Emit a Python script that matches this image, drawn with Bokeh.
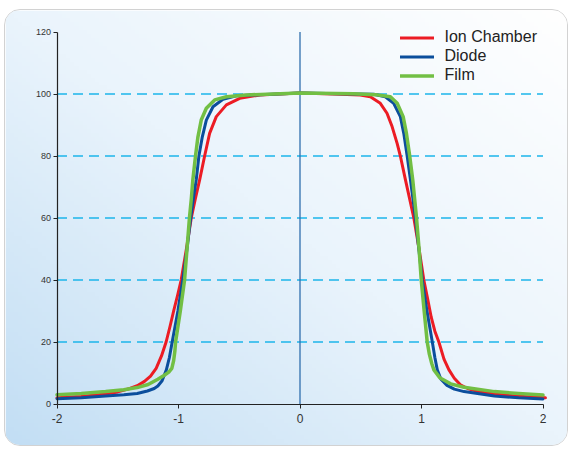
import numpy as np
from bokeh.plotting import figure
from bokeh.models import FixedTicker, Legend, LegendItem
from bokeh.embed import file_html
from bokeh.resources import INLINE

# ---- data ----
x_ticks = [-2, -1, 0, 1, 2]
x_tick_text = {-2: "-2", -1: "-1", 0: "0", 1: "1", 2: "2"}
y_ticks = [0, 20, 40, 60, 80, 100, 120]
grid_levels = [20, 40, 60, 80, 100]
center_x = 0

ion_x = [-2.0, -1.8, -1.6, -1.5, -1.4, -1.34, -1.28, -1.23, -1.184, -1.14, -1.102, -1.07,
         -1.04, -1.008, -0.978, -0.935, -0.895, -0.86, -0.826, -0.785, -0.744, -0.689,
         -0.606, -0.496, -0.33, 0.0, 0.33, 0.496, 0.579, 0.661, 0.716, 0.758, 0.8, 0.826,
         0.868, 0.937, 0.98, 1.019, 1.05, 1.08, 1.11, 1.143, 1.185, 1.226, 1.27, 1.32,
         1.38, 1.45, 1.6, 1.8, 2.02]
ion_y = [2.0, 2.4, 3.2, 3.9, 5.0, 5.9, 7.3, 9.0, 11.5, 15.5, 20.0, 25.0,
         30.0, 35.0, 40.0, 50.0, 60.0, 66.5, 72.3, 80.0, 87.3, 92.7,
         96.5, 98.6, 99.7, 100.3, 99.9, 99.7, 99.1, 97.0, 93.8, 89.5, 84.0, 80.0,
         72.3, 60.0, 50.0, 40.0, 34.0, 28.0, 23.5, 20.0, 14.5, 11.0, 8.3, 6.2,
         5.0, 4.2, 3.2, 2.5, 2.0]

diode_x = [-2.0, -1.8, -1.6, -1.45, -1.34, -1.256, -1.2, -1.17, -1.135, -1.10, -1.075, -1.052,
           -1.005, -0.965, -0.93, -0.90, -0.875, -0.854, -0.832, -0.804, -0.771, -0.716,
           -0.634, -0.523, -0.33, 0.0, 0.33, 0.606, 0.702, 0.771, 0.826, 0.854, 0.882,
           0.909, 0.95, 0.978, 1.006, 1.045, 1.089, 1.11, 1.13, 1.16, 1.21, 1.27, 1.35,
           1.6, 1.8, 2.0]
diode_y = [1.7, 2.0, 2.6, 3.0, 3.4, 4.2, 5.0, 5.8, 7.5, 11.0, 15.0, 20.0,
           30.0, 40.0, 50.0, 60.0, 67.0, 72.3, 80.0, 86.2, 91.6, 95.9,
           98.3, 99.4, 99.8, 100.3, 100.1, 99.9, 99.1, 97.0, 92.7, 87.3, 80.0,
           72.3, 60.0, 50.0, 40.0, 30.0, 20.0, 15.0, 11.0, 8.0, 6.0, 4.8, 4.0,
           2.6, 2.0, 1.6]

film_x = [-2.0, -1.8, -1.6, -1.45, -1.34, -1.25, -1.17, -1.12, -1.08, -1.055, -1.04, -1.03,
          -1.024, -0.985, -0.95, -0.93, -0.91, -0.895, -0.882, -0.86, -0.84, -0.813,
          -0.771, -0.702, -0.606, -0.44, 0.0, 0.44, 0.62, 0.744, 0.8, 0.849, 0.876, 0.903,
          0.928, 0.959, 0.98, 0.998, 1.022, 1.047, 1.065, 1.085, 1.102, 1.15, 1.24, 1.35,
          1.6, 1.8, 2.0]
film_y = [3.0, 3.4, 4.0, 4.6, 5.3, 6.3, 8.0, 9.2, 10.3, 11.5, 14.0, 17.0,
          20.0, 30.0, 40.0, 50.0, 60.0, 66.0, 72.3, 80.0, 86.2, 91.6,
          95.4, 98.1, 99.1, 99.7, 100.3, 100.1, 99.8, 99.1, 97.0, 92.7, 87.3, 80.0,
          72.3, 60.0, 50.0, 40.0, 30.0, 20.0, 16.0, 13.0, 11.0, 8.5, 6.5, 5.4,
          4.0, 3.4, 2.9]

series = [
    ("Ion Chamber", ion_x, ion_y, "#ec1c24", 3),
    ("Diode", diode_x, diode_y, "#0b4e9c", 3),
    ("Film", film_x, film_y, "#72bf44", 3.5),
]

# ---- layout ----
W, H = 564, 437
x0, x1 = -2.4239, 2.2181
y0, y1 = -14.03, 126.94

p = figure(width=W, height=H, x_range=(x0, x1), y_range=(y0, y1),
           output_backend="svg", toolbar_location=None, min_border=0)
p.styles = {"border": "1.5px solid #d2d2d2", "border-radius": "16px", "overflow": "hidden",
            "margin": "9px 0 0 4px"}
p.outline_line_color = None
p.xgrid.visible = False
p.ygrid.visible = False
p.background_fill_color = None
p.border_fill_color = "#ffffff"

# background gradient (bottom-left light blue -> top-right white)
ny, nx = 110, 140
u = np.linspace(0, 1, nx)[None, :]
v = np.linspace(0, 1, ny)[:, None]
t = np.clip((u + v) / 2.0, 0, 1)
c0 = np.array([194, 222, 244])
c1 = np.array([234, 244, 252])
c2 = np.array([255, 255, 255])
tt = t[..., None]
col = np.where(tt < 0.5, c0 + (c1 - c0) * (tt / 0.5), c1 + (c2 - c1) * ((tt - 0.5) / 0.5))
img = np.zeros((ny, nx), dtype=np.uint32)
view = img.view(dtype=np.uint8).reshape((ny, nx, 4))
view[..., 0] = col[..., 0]
view[..., 1] = col[..., 1]
view[..., 2] = col[..., 2]
view[..., 3] = 255
p.image_rgba(image=[img], x=x0, y=y0, dw=x1 - x0, dh=y1 - y0)

# dashed horizontal guide lines
p.segment(x0=[x_ticks[0]] * len(grid_levels), x1=[x_ticks[-1]] * len(grid_levels),
          y0=grid_levels, y1=grid_levels, line_color="#1cb5ea", line_width=1.4,
          line_dash="10 6")

# vertical centre line
p.segment(x0=[center_x], x1=[center_x], y0=[y_ticks[0]], y1=[y_ticks[-1]],
          line_color="#2f6fad", line_width=1.3)

items = []
for name, xs, ys, color, lw in series:
    r = p.line(xs, ys, line_color=color, line_width=lw, line_join="round", line_cap="round")
    items.append(LegendItem(label=name, renderers=[r]))

legend = Legend(items=items, location=(394.5, 362.5), background_fill_alpha=0,
                border_line_color=None, padding=0, margin=0, spacing=0,
                glyph_width=34, glyph_height=19, label_height=19, label_standoff=11,
                label_text_font="Liberation Sans", label_text_font_size="16px",
                label_text_color="#222222")
p.add_layout(legend, "center")

# axes inside the panel
for ax in p.xaxis:
    ax.fixed_location = 0
    ax.bounds = (x_ticks[0], x_ticks[-1])
    ax.ticker = FixedTicker(ticks=x_ticks)
    ax.major_label_overrides = x_tick_text
    ax.major_label_text_font = "Liberation Sans"
    ax.major_label_text_font_size = "12px"
    ax.major_label_text_color = "#333333"
    ax.major_label_standoff = 6
for ax in p.yaxis:
    ax.fixed_location = x_ticks[0]
    ax.bounds = (y_ticks[0], y_ticks[-1])
    ax.ticker = FixedTicker(ticks=y_ticks)
    ax.major_label_text_font = "Liberation Sans"
    ax.major_label_text_font_size = "9px"
    ax.major_label_text_color = "#333333"
    ax.major_label_standoff = 2
for ax in list(p.xaxis) + list(p.yaxis):
    ax.axis_line_color = "#222222"
    ax.axis_line_width = 1.2
    ax.major_tick_line_color = "#222222"
    ax.major_tick_in = 0
    ax.major_tick_out = 4
    ax.minor_tick_line_color = None

open("out.html", "w").write(file_html(p, INLINE))
